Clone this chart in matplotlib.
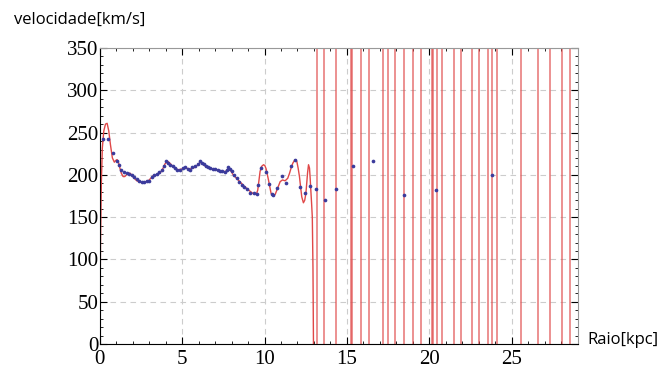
import numpy as np
import matplotlib.pyplot as plt
from matplotlib.ticker import MultipleLocator

# 观测点 (蓝色)
r_obs = [0.18, 0.5, 0.78, 1.03, 1.17, 1.31, 1.5, 1.64, 1.8, 1.94, 2.1, 2.25, 2.4,
         2.55, 2.7, 2.85, 3.0, 3.16, 3.3, 3.46, 3.6, 3.76, 3.9, 4.03, 4.15, 4.27,
         4.42, 4.57, 4.72, 4.88, 5.03, 5.18, 5.33, 5.48, 5.63, 5.79, 5.94, 6.09,
         6.2, 6.32, 6.45, 6.57, 6.7, 6.85, 7.0, 7.15, 7.3, 7.45, 7.6, 7.72, 7.81,
         7.9, 8.01, 8.16, 8.32, 8.47, 8.62, 8.77, 8.92, 9.13, 9.39, 9.53, 9.63,
         9.79, 10.1, 10.28, 10.44, 10.54, 10.78, 11.05, 11.29, 11.61, 11.86,
         12.16, 12.45, 12.77, 13.14, 13.64, 14.33, 15.34, 16.58, 18.46, 20.42,
         23.82]
v_obs = [242, 242, 226, 216, 212, 206, 203, 202, 201, 200, 197, 195, 193,
         192, 192, 193, 193, 198, 200, 201, 203, 206, 210, 216, 214, 212,
         210, 208, 206, 206, 208, 209, 207, 206, 209, 210, 213, 216,
         214, 213, 211, 209, 208, 207, 207, 206, 205, 204, 203, 206, 209,
         207, 204, 200, 196, 192, 188, 186, 183, 179, 178, 177, 188,
         208, 203, 189, 177, 176, 185, 199, 190, 210, 218,
         186, 178, 187, 183, 170, 183, 210, 216, 176, 182,
         200]

# 拟合曲线 (红色), 读图估计
r_fit = [0.0, 0.05, 0.1, 0.16, 0.25, 0.35, 0.45, 0.55, 0.65, 0.77, 0.89, 0.97,
         1.05, 1.12, 1.2, 1.31, 1.42, 1.52, 1.62, 1.75, 1.84, 1.95, 2.05, 2.25,
         2.55, 2.8, 2.95, 3.1, 3.25, 3.45, 3.66, 3.85, 3.96, 4.13, 4.3, 4.5,
         4.75, 5.0, 5.2, 5.5, 5.8, 6.0, 6.1, 6.3, 6.5, 6.8, 7.1, 7.4, 7.65,
         7.8, 7.95, 8.1, 8.3, 8.5, 8.8, 9.1, 9.3, 9.43, 9.52, 9.59, 9.66, 9.73,
         9.82, 9.94, 10.02, 10.1, 10.24, 10.4, 10.54, 10.65, 10.75, 10.95,
         11.09, 11.25, 11.41, 11.52, 11.61, 11.72, 11.82, 11.9, 11.96, 12.04,
         12.12, 12.2, 12.26, 12.36, 12.44, 12.51, 12.57, 12.61, 12.67, 12.73,
         12.77, 12.81, 12.86, 12.9, 12.94, 12.97, 13.0]
v_fit = [0, 120, 190, 232, 252, 260, 261, 252, 236, 220, 215, 217,
         218, 216, 210, 202, 198, 198, 200, 202, 202, 200, 197, 193,
         191, 192, 193, 196, 199, 200, 202, 208, 213, 216, 213, 209,
         206, 207, 208, 207, 209, 213, 215, 212, 209, 207, 206, 204, 204,
         207, 205, 200, 196, 192, 186, 181, 178, 177, 178, 182, 193, 204,
         210, 212, 211, 207, 194, 178, 175, 177, 182, 192,
         194, 193, 196, 202, 208, 214, 217, 218, 216, 208,
         198, 184, 174, 167, 170, 178, 192, 202, 212, 208,
         196, 182, 165, 150, 90, 0, -100]

# 曲线在 r > 13 处剧烈振荡, 超出显示范围
r_spikes = [13.18, 13.62, 14.33, 15.26, 15.32, 15.83, 16.37, 17.18, 17.49,
            17.93, 18.46, 19.0, 19.51, 20.14, 20.24, 20.46, 20.77, 21.47,
            21.94, 22.58, 23.01, 23.53, 23.8, 24.1, 25.56, 26.57, 27.34,
            28.05, 28.51]


def main():
    fig = plt.figure(figsize=(6.62, 3.69), dpi=100)
    ax = fig.add_axes([0.1506, 0.0678, 0.722, 0.802])

    ax.vlines(r_spikes, -10, 400, color="#e04848", lw=1.2, alpha=0.7, zorder=2)
    ax.plot(r_fit, v_fit, color="#e04848", lw=1.0, zorder=2)
    ax.scatter(r_obs, v_obs, s=7, color="#3b3b9c", zorder=3, linewidths=0)

    ax.set_xlim(0, 29)
    ax.set_ylim(0, 350)
    ax.xaxis.set_major_locator(MultipleLocator(5))
    ax.xaxis.set_minor_locator(MultipleLocator(1))
    ax.yaxis.set_major_locator(MultipleLocator(50))
    ax.yaxis.set_minor_locator(MultipleLocator(10))
    ax.grid(True, which="major", color="#cccccc", ls=(0, (5, 4)), lw=0.8)

    ax.tick_params(which="both", direction="in", top=True, right=True,
                   labelsize=15)
    ax.tick_params(axis="y", pad=1)
    ax.tick_params(axis="x", pad=4)
    ax.tick_params(which="major", length=5, width=0.8)
    ax.tick_params(which="minor", length=2.5, width=0.6)
    for lab in ax.get_xticklabels() + ax.get_yticklabels():
        lab.set_family("Liberation Serif")

    for side in ["top", "right"]:
        ax.spines[side].set_color("#999999")
    for side in ["left", "bottom"]:
        ax.spines[side].set_color("black")

    fig.text(14 / 662, 1 - 20 / 369, "velocidade[km/s]", fontsize=12,
             family="Open Sans", va="center", ha="left")
    fig.text(587 / 662, 1 - 340 / 369, "Raio[kpc]", fontsize=12,
             family="Open Sans", va="center", ha="left")

    fig.savefig("out.png", dpi=100)


if __name__ == "__main__":
    main()
